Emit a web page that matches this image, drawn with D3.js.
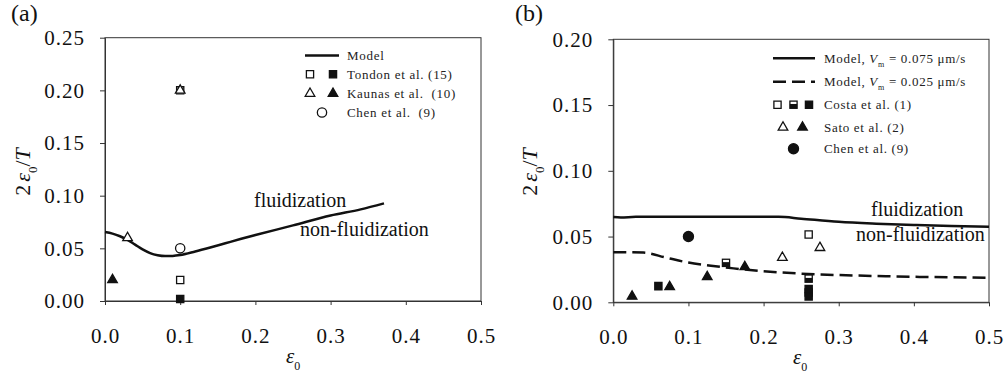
<!DOCTYPE html>
<html>
<head>
<meta charset="utf-8">
<script src="https://cdn.jsdelivr.net/npm/d3@7"></script>
<style>
  body { margin: 0; background: #fff; }
  svg { display: block; font-family: 'Liberation Serif', 'Times New Roman', serif; }
  .tick text { font-size: 21px; letter-spacing: 1px; fill: #111; }
  .domain, .tick line { stroke: #333; }
</style>
</head>
<body>
<div id="container"></div>
<script>
// tick values
const xTicks = [0, 0.1, 0.2, 0.3, 0.4, 0.5];
const yTicksA = [0, 0.05, 0.10, 0.15, 0.20, 0.25];
const yTicksB = [0, 0.05, 0.10, 0.15, 0.20];

// panel (a)
const modelA = [[0, 0.0655], [0.01, 0.064], [0.02, 0.0615], [0.03, 0.058], [0.04, 0.0535], [0.05, 0.049],
  [0.06, 0.0455], [0.07, 0.0435], [0.08, 0.0427], [0.09, 0.0428], [0.1, 0.0436], [0.12, 0.047],
  [0.14, 0.0508], [0.16, 0.0548], [0.18, 0.0588], [0.2, 0.0626], [0.25, 0.0718], [0.3, 0.0812],
  [0.34, 0.087], [0.371, 0.0927]];
const tondonOpenA = [[0.1, 0.20], [0.1, 0.02]];
const tondonFilledA = [[0.1, 0.002]];
const kaunasOpenA = [[0.03, 0.06], [0.1, 0.20]];
const kaunasFilledA = [[0.01, 0.02]];
const chenOpenA = [[0.1, 0.05]];
const legendA = ['Model', 'Tondon et al. (15)', 'Kaunas et al.  (10)', 'Chen et al.  (9)'];

// panel (b)
const modelFastB = [[0, 0.0648], [0.01, 0.0645], [0.03, 0.065], [0.1, 0.065], [0.2, 0.065], [0.22, 0.065],
  [0.25, 0.0636], [0.3, 0.0612], [0.35, 0.0598], [0.4, 0.0588], [0.45, 0.058], [0.5, 0.0575]];
const modelSlowB = [[0, 0.0381], [0.04, 0.0378], [0.07, 0.034], [0.1, 0.0302], [0.13, 0.0278],
  [0.16, 0.0258], [0.2, 0.0236], [0.25, 0.0218], [0.3, 0.0207], [0.35, 0.02], [0.4, 0.0194],
  [0.45, 0.019], [0.5, 0.0186]];
const costaOpenB = [[0.26, 0.0515]];
const costaHalfB = [[0.15, 0.030], [0.26, 0.018]];
const costaFilledB = [[0.06, 0.0123], [0.26, 0.0102], [0.26, 0.0075], [0.26, 0.0045]];
const satoOpenB = [[0.225, 0.034], [0.275, 0.0415]];
const satoFilledB = [[0.025, 0.0045], [0.075, 0.0118], [0.125, 0.0194], [0.175, 0.027]];
const chenFilledB = [[0.1, 0.05]];
const legendB = ['0.075', '0.025', 'Costa et al. (1)', 'Sato et al. (2)', 'Chen et al. (9)'];

const width = 1007;
const height = 380;
const ink = '#111';
const serif = "'Liberation Serif', 'Times New Roman', serif";

const svg = d3.select('#container').append('svg')
  .attr('width', width).attr('height', height);

function drawFrame(x, y, yTicks, yFmt) {
  const g = svg.append('g');
  const [x0, x1] = x.range();
  const [y0, y1] = y.range();
  g.append('rect')
    .attr('x', x0).attr('y', y1)
    .attr('width', x1 - x0).attr('height', y0 - y1)
    .attr('fill', 'none').attr('stroke', '#333').attr('stroke-width', 1);
  g.append('g')
    .attr('transform', 'translate(0,' + y0 + ')')
    .call(d3.axisBottom(x).tickValues(xTicks).tickFormat(d3.format('.1f')).tickSize(4).tickPadding(23).tickSizeOuter(0))
    .attr('font-family', serif);
  g.append('g')
    .attr('transform', 'translate(' + x0 + ',0)')
    .call(d3.axisLeft(y).tickValues(yTicks).tickFormat(d3.format(yFmt)).tickSize(5).tickPadding(15).tickSizeOuter(0))
    .attr('font-family', serif);
  return g;
}

function axisTitles(xPos, xBase, yPos, yCenter) {
  // x title: epsilon_0
  const tx = svg.append('text').attr('x', xPos).attr('y', xBase).attr('fill', ink).style('font-size', '21px');
  tx.append('tspan').style('font-style', 'italic').text('ε');
  tx.append('tspan').attr('dy', 7).style('font-size', '12px').text('0');

  // y title: 2 epsilon_0 / T
  const ty = svg.append('text')
    .attr('transform', 'translate(' + yPos + ',' + yCenter + ') rotate(-90)')
    .attr('text-anchor', 'middle').attr('fill', ink).style('font-size', '22px');
  ty.append('tspan').text('2');
  ty.append('tspan').attr('dx', 3).style('font-style', 'italic').text('ε');
  ty.append('tspan').attr('dy', 7).style('font-size', '13px').text('0');
  ty.append('tspan').attr('dy', -7).text('/');
  ty.append('tspan').style('font-style', 'italic').text('T');
}

function drawSymbols(g, pts, x, y, kind, filled) {
  let type = d3.symbolSquare, size = 52;
  if (kind === 'tri') { type = d3.symbolTriangle; size = 40; }
  if (kind === 'circle') { type = d3.symbolCircle; size = filled ? 80 : 68; }
  g.selectAll(null).data(pts).enter().append('path')
    .attr('transform', d => 'translate(' + x(d[0]) + ',' + y(d[1]) + ')')
    .attr('d', d3.symbol(type, size))
    .attr('fill', filled ? ink : '#fff')
    .attr('stroke', ink).attr('stroke-width', 1.3);
}

function drawHalf(g, pts, x, y) {
  const s = 7.2;
  const m = g.selectAll(null).data(pts).enter().append('g')
    .attr('transform', d => 'translate(' + x(d[0]) + ',' + y(d[1]) + ')');
  m.append('rect').attr('x', -s / 2).attr('y', -s / 2).attr('width', s).attr('height', s)
    .attr('fill', '#fff').attr('stroke', ink).attr('stroke-width', 1.3);
  m.append('rect').attr('x', -s / 2).attr('y', -s / 2 + s * 0.4).attr('width', s).attr('height', s * 0.6)
    .attr('fill', ink);
}

function legendText(g, xPos, yPos, str) {
  g.append('text').attr('x', xPos).attr('y', yPos + 4.5)
    .attr('fill', '#222').style('font-size', '13px').style('letter-spacing', '0.7px')
    .style('white-space', 'pre').text(str);
}

// ---------- panel (a) ----------
const xA = d3.scaleLinear().domain([0, 0.5]).range([105, 481]);
const yA = d3.scaleLinear().domain([0, 0.25]).range([301, 37.7]);
const gA = drawFrame(xA, yA, yTicksA, '.2f');
axisTitles(286, 363, 30, 172);

svg.append('text').attr('x', 11).attr('y', 21).attr('fill', ink).style('font-size', '24px').text('(a)');

gA.append('path').datum(modelA)
  .attr('d', d3.line().x(d => xA(d[0])).y(d => yA(d[1])).curve(d3.curveMonotoneX))
  .attr('fill', 'none').attr('stroke', ink).attr('stroke-width', 2.5);

drawSymbols(gA, tondonOpenA, xA, yA, 'square', false);
drawSymbols(gA, tondonFilledA, xA, yA, 'square', true);
drawSymbols(gA, kaunasOpenA, xA, yA, 'tri', false);
drawSymbols(gA, kaunasFilledA, xA, yA, 'tri', true);
drawSymbols(gA, chenOpenA, xA, yA, 'circle', false);

gA.append('text').attr('x', 254).attr('y', 207).attr('fill', ink).style('font-size', '20px').text('fluidization');
gA.append('text').attr('x', 300).attr('y', 236).attr('fill', ink).style('font-size', '20px').text('non-fluidization');

// legend (a)
const rowsA = [55.5, 74.3, 93.5, 112.5];
gA.append('line').attr('x1', 305).attr('x2', 339).attr('y1', rowsA[0]).attr('y2', rowsA[0])
  .attr('stroke', ink).attr('stroke-width', 2.5);
drawSymbols(gA, [[0, 0]], v => 310, v => rowsA[1], 'square', false);
drawSymbols(gA, [[0, 0]], v => 333, v => rowsA[1], 'square', true);
drawSymbols(gA, [[0, 0]], v => 310, v => rowsA[2], 'tri', false);
drawSymbols(gA, [[0, 0]], v => 333, v => rowsA[2], 'tri', true);
drawSymbols(gA, [[0, 0]], v => 322, v => rowsA[3], 'circle', false);
legendA.forEach((t, i) => legendText(gA, 347, rowsA[i], t));

// ---------- panel (b) ----------
const xB = d3.scaleLinear().domain([0, 0.5]).range([613.3, 989]);
const yB = d3.scaleLinear().domain([0, 0.2]).range([302.3, 39.3]);
const gB = drawFrame(xB, yB, yTicksB, '.2f');
axisTitles(793, 364, 537, 172);

svg.append('text').attr('x', 515).attr('y', 21).attr('fill', ink).style('font-size', '24px').text('(b)');

const lineB = d3.line().x(d => xB(d[0])).y(d => yB(d[1])).curve(d3.curveMonotoneX);
gB.append('path').datum(modelFastB).attr('d', lineB)
  .attr('fill', 'none').attr('stroke', ink).attr('stroke-width', 2.5);
gB.append('path').datum(modelSlowB).attr('d', lineB)
  .attr('fill', 'none').attr('stroke', ink).attr('stroke-width', 2.5).attr('stroke-dasharray', '13,6');

drawSymbols(gB, costaOpenB, xB, yB, 'square', false);
drawHalf(gB, costaHalfB, xB, yB);
drawSymbols(gB, costaFilledB, xB, yB, 'square', true);
drawSymbols(gB, satoOpenB, xB, yB, 'tri', false);
drawSymbols(gB, satoFilledB, xB, yB, 'tri', true);
drawSymbols(gB, chenFilledB, xB, yB, 'circle', true);

gB.append('text').attr('x', 871).attr('y', 216).attr('fill', ink).style('font-size', '20px').text('fluidization');
gB.append('text').attr('x', 856).attr('y', 241).attr('fill', ink).style('font-size', '20px').text('non-fluidization');

// legend (b)
const rowsB = [58.3, 81.7, 104.7, 127.3, 148.7];
gB.append('line').attr('x1', 773).attr('x2', 815).attr('y1', rowsB[0]).attr('y2', rowsB[0])
  .attr('stroke', ink).attr('stroke-width', 2.5);
gB.append('line').attr('x1', 773).attr('x2', 815).attr('y1', rowsB[1]).attr('y2', rowsB[1])
  .attr('stroke', ink).attr('stroke-width', 2.5).attr('stroke-dasharray', '13,6');
drawSymbols(gB, [[0, 0]], v => 777.5, v => rowsB[2], 'square', false);
drawHalf(gB, [[0, 0]], v => 793.5, v => rowsB[2]);
drawSymbols(gB, [[0, 0]], v => 809, v => rowsB[2], 'square', true);
drawSymbols(gB, [[0, 0]], v => 783, v => rowsB[3], 'tri', false);
drawSymbols(gB, [[0, 0]], v => 802.5, v => rowsB[3], 'tri', true);
drawSymbols(gB, [[0, 0]], v => 793.5, v => rowsB[4], 'circle', true);

legendB.slice(0, 2).forEach((v, i) => {
  const t = gB.append('text').attr('x', 824).attr('y', rowsB[i] + 4.5)
    .attr('fill', '#222').style('font-size', '13px').style('letter-spacing', '0.7px');
  t.append('tspan').text('Model, ');
  t.append('tspan').style('font-style', 'italic').text('V');
  t.append('tspan').attr('dy', 4).style('font-size', '8px').text('m');
  t.append('tspan').attr('dy', -4).text(' = ' + v + ' μm/s');
});
legendB.slice(2).forEach((t, i) => legendText(gB, 824, rowsB[i + 2], t));
</script>
</body>
</html>
